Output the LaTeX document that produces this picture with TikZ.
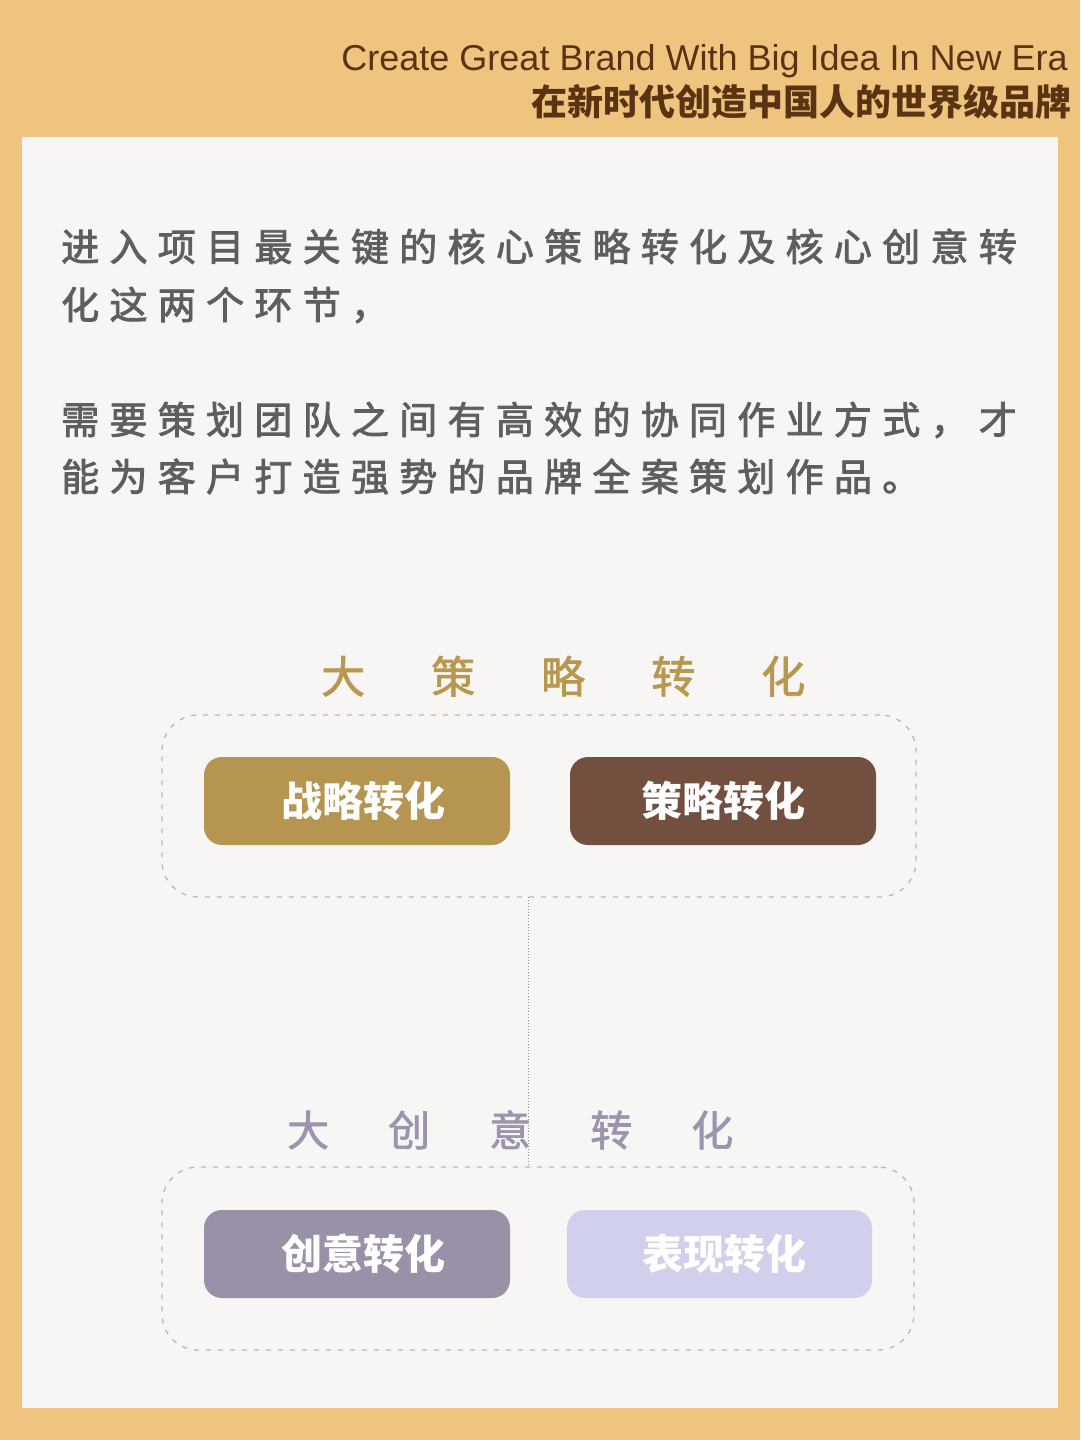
\documentclass[tikz,border=0pt]{standalone}
\usepackage{fontspec}
\setmainfont{Liberation Sans}
\newfontfamily\cjk{Noto Sans CJK SC}
\newfontfamily\cjkm[FakeBold=1.6]{Noto Sans CJK SC}
\newfontfamily\cjkb[FakeBold=2.2]{Noto Sans CJK SC}
\definecolor{bgor}{HTML}{EFC47F}
\definecolor{panel}{HTML}{F7F6F4}
\definecolor{headc}{HTML}{5A3312}
\definecolor{bodyc}{HTML}{5E5E5E}
\definecolor{goldc}{HTML}{B5954F}
\definecolor{brownc}{HTML}{734F3F}
\definecolor{purpc}{HTML}{9A91A8}
\definecolor{lavc}{HTML}{D0D0EC}
\definecolor{tgold}{HTML}{B8984F}
\definecolor{tpurp}{HTML}{9C93AE}
\definecolor{dashc}{HTML}{B8B8B8}
\newlength\gapl
\def\spaced#1#2{\setlength\gapl{#1}\spacedA#2\relax}
\def\spacedA#1{\ifx\relax#1\else#1\hspace{\gapl}\expandafter\spacedA\fi}
\tikzset{
  bodyline/.style={anchor=base west, inner sep=0pt, text=bodyc, font=\cjkb\fontsize{38}{42}\selectfont},
  tbox/.style={rounded corners=18pt, minimum width=306pt, minimum height=88pt, inner sep=0pt,
    text=white, font=\cjk\bfseries\fontsize{41}{44}\selectfont},
  frame/.style={draw=dashc, line width=1.3pt, dash pattern=on 5pt off 7pt, rounded corners=36pt, inner sep=0pt},
  conn/.style={draw=gray!85, line width=1pt, dotted},
}
\begin{document}
\begin{tikzpicture}[x=1pt,y=-1pt]
\fill[bgor] (0,0) rectangle (1080,1440);
\useasboundingbox (0,0) rectangle (1080,1440);
\fill[panel] (22,137) rectangle (1058,1408);
% header
\node[anchor=base east, inner sep=0pt, text=headc, font=\fontsize{36}{40}\selectfont] (hen) at (1068,70) {Create Great Brand With Big Idea In New Era};
\node[anchor=base east, inner sep=0pt, text=headc, font=\cjk\bfseries\fontsize{36}{40}\selectfont] (hcn) at (1072,115) {在新时代创造中国人的世界级品牌};
% body
\node[bodyline] (b1) at (61,261) {\spaced{10.3pt}{进入项目最关键的核心策略转化及核心创意转}};
\node[bodyline] (b2) at (61,319) {\spaced{10.3pt}{化这两个环节，}};
\node[bodyline] (b3) at (61,434) {\spaced{10.3pt}{需要策划团队之间有高效的协同作业方式，才}};
\node[bodyline] (b4) at (61,491) {\spaced{10.3pt}{能为客户打造强势的品牌全案策划作品。}};
% frames
\node[frame, minimum width=754pt, minimum height=182pt] (f1) at (539,806) {};
\node[frame, minimum width=752pt, minimum height=183pt] (f2) at (538,1258.5) {};
% connector
\coordinate (ctop) at (528,897);
\draw[conn] (ctop) -- (ctop |- f2.north);
% titles
\node[anchor=base west, inner sep=0pt, text=tgold, font=\cjkm\fontsize{44}{48}\selectfont] (t1) at (321,693) {\spaced{66pt}{大策略转化}};
\node[anchor=base west, inner sep=0pt, text=tpurp, font=\cjkm\fontsize{42}{46}\selectfont] (t2) at (287,1146) {\spaced{59pt}{大创意转化}};
% boxes
\node[tbox, fill=goldc] (s1) at (357,801) {\hspace*{12pt}战略转化};
\node[tbox, fill=brownc] (s2) at (723,801) {策略转化};
\node[tbox, fill=purpc] (s3) at (357,1254) {\hspace*{12pt}创意转化};
\node[tbox, fill=lavc, minimum width=305pt] (s4) at (719.5,1254) {\hspace*{10pt}表现转化};
\end{tikzpicture}
\end{document}
